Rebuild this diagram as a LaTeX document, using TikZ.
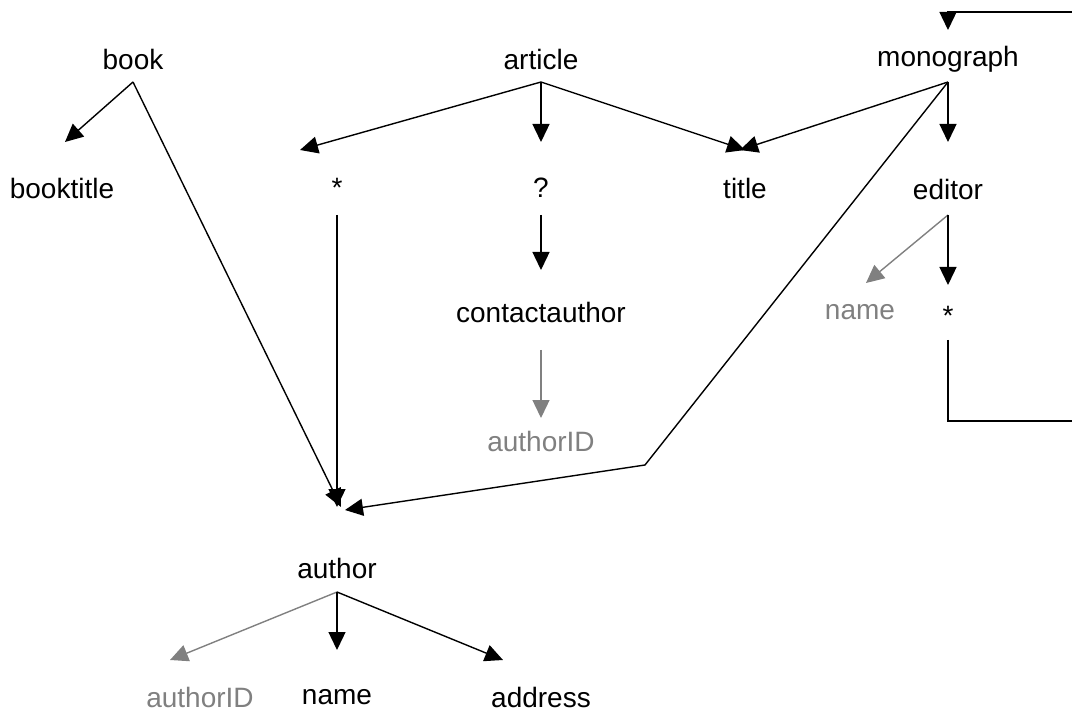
\documentclass[tikz,border=0pt]{standalone}
\usepackage{fontspec}
\setmainfont{Liberation Sans}
\usetikzlibrary{arrows.meta,calc}
\definecolor{soft}{RGB}{128,128,128}
\begin{document}
\begin{tikzpicture}[x=1pt,y=-1pt,
  lbl/.style={inner sep=0pt,font=\fontsize{28}{32}\selectfont,text=black},
  lblsoft/.style={lbl,text=soft},
  edge/.style={line width=1.4pt,draw=black,-{Triangle[length=18pt,width=17pt]}},
  edgesoft/.style={edge,draw=soft}]
\useasboundingbox (0,0) rectangle (1072,714);
% element names
\node[lbl] (book) at (133,59) {book};
\node[lbl] (article) at (541,59) {article};
\node[lbl] (monograph) at (948,59) {monograph};
\node[lbl] (booktitle) at (62,188) {booktitle};
\node[lbl] (star1) at (337,188) {*};
\node[lbl] (opt) at (541,188) {?};
\node[lbl] (title) at (745,188) {title};
\node[lbl] (editor) at (948,189) {editor};
\node[lbl] (contact) at (541,312) {contactauthor};
\node[lblsoft] (ename) at (860,312) {name};
\node[lbl] (star2) at (948,316) {*};
\node[lblsoft] (cid) at (541,441) {authorID};
\node[lbl] (author) at (337,568) {author};
\node[lblsoft] (aid) at (200,697) {authorID};
\node[lbl] (aname) at (337,697) {name};
\node[lbl] (address) at (541,697) {address};
% bend points
\coordinate (mbend) at (645,465);
\coordinate (loopA) at (948,421);
\coordinate (loopB) at (1075,421);
\coordinate (loopC) at (1075,12);
\coordinate (loopD) at (948,12);
% book
\draw[edge] ($(book)+(0,23)$) -- ($(booktitle)+(3,-46)$);
\draw[edge] ($(book)+(0,23)$) -- ($(author)+(4,-61)$);
% article
\draw[edge] ($(article)+(0,23)$) -- ($(star1)+(-37,-38)$);
\draw[edge] ($(article)+(0,23)$) -- ($(opt)+(0,-46)$);
\draw[edge] ($(article)+(0,23)$) -- ($(title)+(0,-38)$);
% monograph
\draw[edge] ($(monograph)+(0,23)$) -- ($(title)+(-5,-38)$);
\draw[edge] ($(monograph)+(0,23)$) -- ($(editor)+(0,-47)$);
\draw[edge] ($(monograph)+(0,23)$) -- (mbend) -- ($(author)+(8,-58)$);
% children
\draw[edge] ($(star1)+(0,27)$) -- ($(author)+(0,-61)$);
\draw[edge] ($(opt)+(0,27)$) -- ($(contact)+(0,-42)$);
\draw[edgesoft] ($(contact)+(0,38)$) -- ($(cid)+(0,-23)$);
\draw[edgesoft] ($(editor)+(0,26)$) -- ($(ename)+(6,-29)$);
\draw[edge] ($(editor)+(0,26)$) -- ($(star2)+(0,-31)$);
\draw[edge] ($(star2)+(0,24)$) -- (loopA) -- (loopB) -- (loopC) -- (loopD) -- ($(monograph)+(0,-29)$);
% author
\draw[edgesoft] ($(author)+(0,24)$) -- ($(aid)+(-30,-37)$);
\draw[edge] ($(author)+(0,24)$) -- ($(aname)+(0,-47)$);
\draw[edge] ($(author)+(0,24)$) -- ($(address)+(-38,-37)$);
\end{tikzpicture}
\end{document}
